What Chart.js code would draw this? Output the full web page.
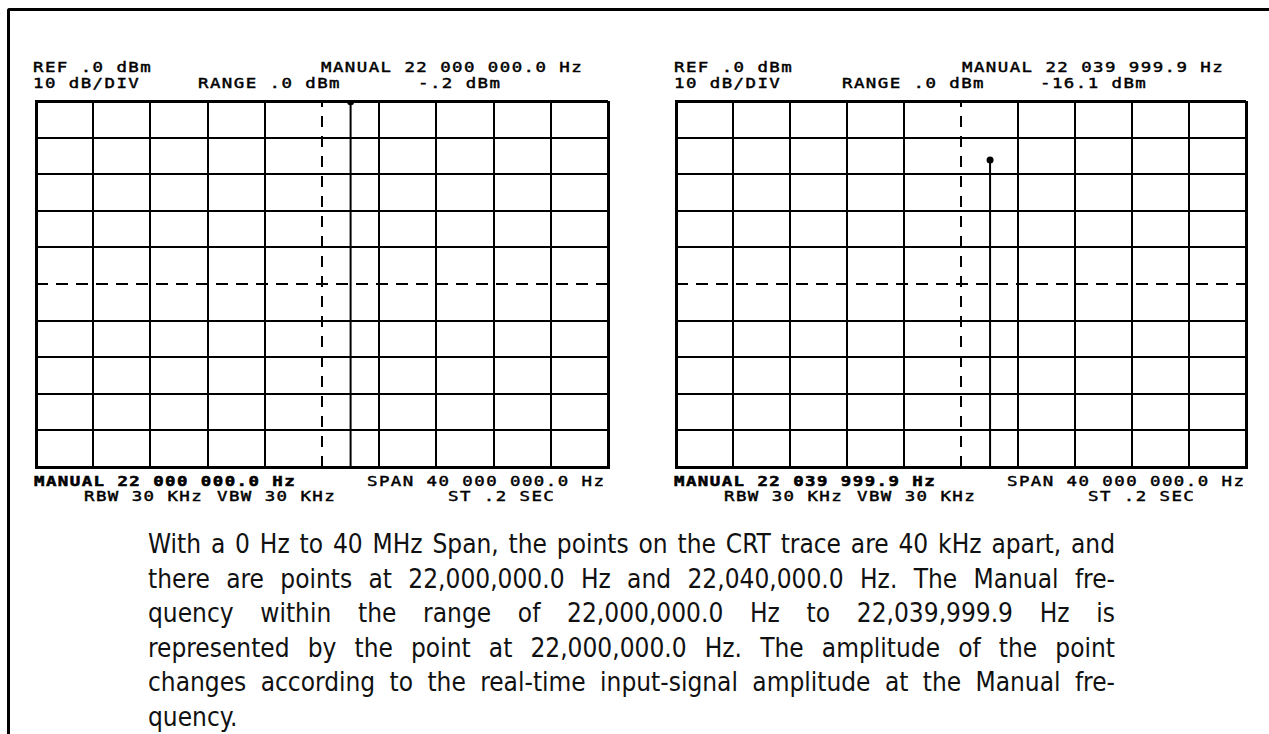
<!DOCTYPE html>
<html>
<head>
<meta charset="utf-8">
<script src="https://cdn.jsdelivr.net/npm/chart.js@4.4.0/dist/chart.umd.min.js"></script>
<style>
    body { margin: 0; background: #fff; width: 1269px; height: 734px; overflow: hidden; position: relative; }
    .bar-top { position: absolute; left: 7px; top: 8px; width: 1262px; height: 3px; background: #000; border-top-left-radius: 3px; }
    .bar-left { position: absolute; left: 7px; top: 8px; width: 3px; height: 726px; background: #000; border-top-left-radius: 3px; }
    .crt { position: absolute; font-family: "DejaVu Sans Mono", monospace; font-size: 14.5px; letter-spacing: 1.2px; line-height: 14px; white-space: nowrap; color: #000; -webkit-text-stroke: 0.45px #000; transform: scaleX(1.2); transform-origin: left top; }
    .crt.b { font-weight: bold; letter-spacing: 1.2px; -webkit-text-stroke: 0.55px #000; }
    .scope { position: absolute; }
    .note { position: absolute; left: 148px; top: 527px; width: 967px; font-family: "DejaVu Sans Condensed", sans-serif; font-stretch: condensed; font-size: 26px; line-height: 34.5px; color: #111; }
    .note div { text-align: justify; text-align-last: justify; white-space: nowrap; }
    .note div.last { text-align-last: left; }
</style>
</head>
<body>
<div class="bar-top"></div>
<div class="bar-left"></div>

<div class="scope" style="left:32px; top:97px;"><canvas id="js-leftScope" width="580" height="374"></canvas></div>
<div class="scope" style="left:672px; top:97px;"><canvas id="js-rightScope" width="578" height="374"></canvas></div>

<div class="crt" style="left:33px; top:60px;">REF .0 dBm</div>
<div class="crt" style="left:33px; top:76px;">10 dB/DIV</div>
<div class="crt" style="left:198px; top:76px;">RANGE .0 dBm</div>
<div class="crt" style="left:418px; top:76px;">-.2 dBm</div>
<div class="crt" style="left:321px; top:60px;">MANUAL 22 000 000.0 Hz</div>

<div class="crt" style="left:674px; top:60px;">REF .0 dBm</div>
<div class="crt" style="left:674px; top:76px;">10 dB/DIV</div>
<div class="crt" style="left:842px; top:76px;">RANGE .0 dBm</div>
<div class="crt" style="left:1040px; top:76px;">-16.1 dBm</div>
<div class="crt" style="left:962px; top:60px;">MANUAL 22 039 999.9 Hz</div>

<div class="crt b" style="left:34px; top:474px;">MANUAL 22 000 000.0 Hz</div>
<div class="crt" style="left:367px; top:474px;">SPAN 40 000 000.0 Hz</div>
<div class="crt" style="left:84px; top:489px;">RBW 30 KHz</div>
<div class="crt" style="left:217px; top:489px;">VBW 30 KHz</div>
<div class="crt" style="left:448px; top:489px;">ST .2 SEC</div>

<div class="crt b" style="left:674px; top:474px;">MANUAL 22 039 999.9 Hz</div>
<div class="crt" style="left:1007px; top:474px;">SPAN 40 000 000.0 Hz</div>
<div class="crt" style="left:724px; top:489px;">RBW 30 KHz</div>
<div class="crt" style="left:857px; top:489px;">VBW 30 KHz</div>
<div class="crt" style="left:1088px; top:489px;">ST .2 SEC</div>

<div class="note">
    <div>With a 0 Hz to 40 MHz Span, the points on the CRT trace are 40 kHz apart, and</div>
    <div>there are points at 22,000,000.0 Hz and 22,040,000.0 Hz. The Manual fre-</div>
    <div>quency within the range of 22,000,000.0 Hz to 22,039,999.9 Hz is</div>
    <div>represented by the point at 22,000,000.0 Hz. The amplitude of the point</div>
    <div>changes according to the real-time input-signal amplitude at the Manual fre-</div>
    <div class="last">quency.</div>
</div>

<script>
// span and scale of both screens (MHz, dBm)
const spanMHz = [0, 40];
const levelRange = [-100, 0];
const freqStep = 4;
const dbPerDiv = 10;

// one marker per screen: trace point frequency (MHz) and its level (dBm)
const markerFreq = [22.0, 22.04];
const markerLevel = [-0.2, -16.1];

const centerFreq = (spanMHz[0] + spanMHz[1]) / 2;
const centerLevel = (levelRange[0] + levelRange[1]) / 2;

const edgeWidth = (ctx, lo, hi) => {
    const v = ctx.tick.value;
    return (v === lo || v === hi) ? 3 : 2;
};

function getScopeConfig(freq, level) {
    const config = {
        type: 'scatter',
        data: {
            datasets: [
                {
                    // vertical centre graticule
                    data: [{ x: centerFreq, y: levelRange[0] }, { x: centerFreq, y: levelRange[1] }],
                    showLine: true,
                    borderColor: '#000',
                    borderWidth: 2,
                    borderDash: [11, 9],
                    pointRadius: 0
                },
                {
                    // horizontal centre graticule
                    data: [{ x: spanMHz[0], y: centerLevel }, { x: spanMHz[1], y: centerLevel }],
                    showLine: true,
                    borderColor: '#000',
                    borderWidth: 2,
                    borderDash: [12, 8],
                    pointRadius: 0
                },
                {
                    // the trace point
                    data: [{ x: freq, y: levelRange[0] }, { x: freq, y: level }],
                    showLine: true,
                    borderColor: '#000',
                    backgroundColor: '#000',
                    borderWidth: 2,
                    pointRadius: [0, 3.5],
                    pointBorderWidth: 0
                }
            ]
        },
        options: {
            responsive: false,
            animation: false,
            layout: { padding: 2 },
            plugins: { legend: { display: false }, tooltip: { enabled: false } },
            scales: {
                x: {
                    type: 'linear',
                    min: spanMHz[0],
                    max: spanMHz[1],
                    ticks: { display: false, stepSize: freqStep },
                    grid: {
                        drawTicks: false,
                        color: ctx => ctx.tick.value === centerFreq ? 'rgba(0,0,0,0)' : '#000',
                        lineWidth: ctx => edgeWidth(ctx, spanMHz[0], spanMHz[1])
                    },
                    border: { display: true, color: '#000', width: 3 }
                },
                y: {
                    type: 'linear',
                    min: levelRange[0],
                    max: levelRange[1],
                    ticks: { display: false, stepSize: dbPerDiv },
                    grid: {
                        drawTicks: false,
                        color: ctx => ctx.tick.value === centerLevel ? 'rgba(0,0,0,0)' : '#000',
                        lineWidth: ctx => edgeWidth(ctx, levelRange[0], levelRange[1])
                    },
                    border: { display: true, color: '#000', width: 3 }
                }
            }
        }
    };
    return config;
}

new Chart(document.getElementById('js-leftScope'), getScopeConfig(markerFreq[0], markerLevel[0]));
new Chart(document.getElementById('js-rightScope'), getScopeConfig(markerFreq[1], markerLevel[1]));
</script>
</body>
</html>
